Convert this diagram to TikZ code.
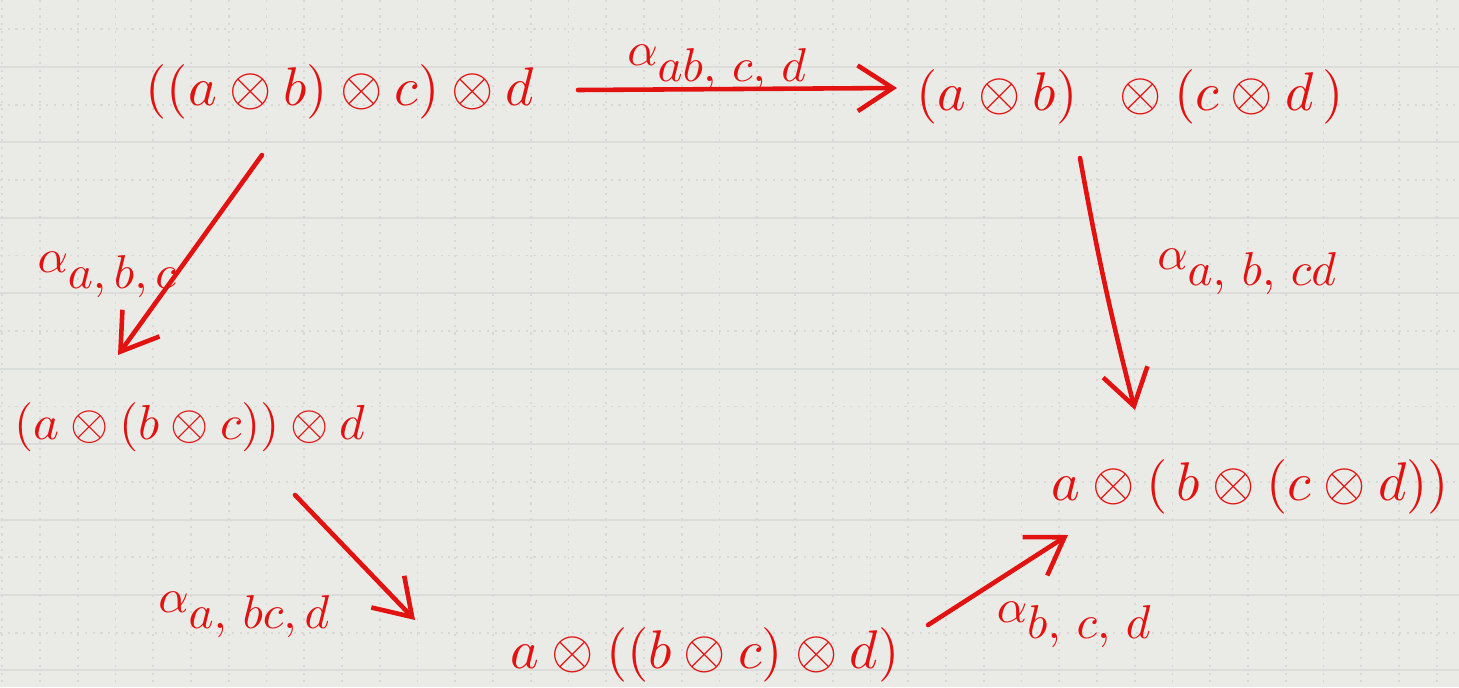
\documentclass[tikz,border=0pt]{standalone}
\usepackage{graphicx}
\usetikzlibrary{arrows.meta,calc}
\definecolor{mred}{RGB}{226,18,16}
\definecolor{paper}{RGB}{234,235,231}
\definecolor{gridsolid}{RGB}{218,221,217}
\definecolor{griddot}{RGB}{214,217,213}
\newcommand{\objtxt}[1]{\scalebox{3.1}{$#1$}}
\newcommand{\objtxtsmall}[1]{\scalebox{2.8}{$#1$}}
\newcommand{\labtxt}[1]{\scalebox{2.7}{$#1$}}
\tikzset{
  obj/.style={text=mred, inner sep=0pt},
  lab/.style={text=mred, inner sep=0pt},
  arr/.style={draw=mred, line width=2.6pt, line cap=round, line join=round,
    -{Straight Barb[length=20pt,width=26pt,line width=2.6pt]}},
  gsolid/.style={draw=gridsolid, line width=1.1pt},
  gdot/.style={draw=griddot, line width=1pt, dash pattern=on 1.2pt off 3.2pt}
}
\begin{document}
\begin{tikzpicture}[x=0.02cm,y=-0.02cm]
\fill[paper] (0,0) rectangle (1459,687);
\useasboundingbox (0,0) rectangle (1459,687);
% grid
\foreach \k in {0,...,8} {
  \draw[gsolid] (0,{67+75.43*\k}) -- (1459,{67+75.43*\k});
  \draw[gdot] (0,{29.3+75.43*\k}) -- (1459,{29.3+75.43*\k});
}
\foreach \k in {0,...,38} {
  \draw[gdot] ({2.25+37.75*\k},0) -- ({2.25+37.75*\k},687);
}
% objects
\node[obj] (A) at (340,92) {\objtxt{((a\otimes b)\otimes c)\otimes d}};
\node[obj] (B) at (1130,97) {\objtxt{(a\otimes b)\;\;\otimes(c\otimes d\,)}};
\node[obj] (C) at (190,427) {\objtxtsmall{(a\otimes(b\otimes c))\otimes d}};
\node[obj] (D) at (705,655) {\objtxt{a\otimes((b\otimes c)\otimes d)}};
\node[obj] (E) at (1250,487) {\objtxt{a\otimes(\,b\otimes(c\otimes d))}};
% labels
\node[lab] (lAB) at (718,68) {\labtxt{\alpha_{\textstyle ab,\,c,\,d}}};
\node[lab] (lAC) at (108,275) {\labtxt{\alpha_{\textstyle a,b,c}}};
\node[lab] (lBE) at (1248,272) {\labtxt{\alpha_{\textstyle a,\,b,\,cd}}};
\node[lab] (lCD) at (245,615) {\labtxt{\alpha_{\textstyle a,\,bc,d}}};
\node[lab] (lDE) at (1075,625) {\labtxt{\alpha_{\textstyle b,\,c,\,d}}};
% arrows
\draw[arr] ($(A.center)+(238,-2)$) -- ($(B.center)+(-233,-9)$);
\draw[arr] ($(A.center)+(-78,63)$) -- ($(C.center)+(-72,-72)$);
\draw[arr] ($(B.center)+(-50,61)$) to[bend right=2] ($(E.center)+(-115,-77)$);
\draw[arr] ($(C.center)+(105,68)$) -- ($(D.center)+(-290,-35)$);
\draw[arr] ($(D.center)+(223,-30)$) -- ($(E.center)+(-182,48)$);
\end{tikzpicture}
\end{document}
